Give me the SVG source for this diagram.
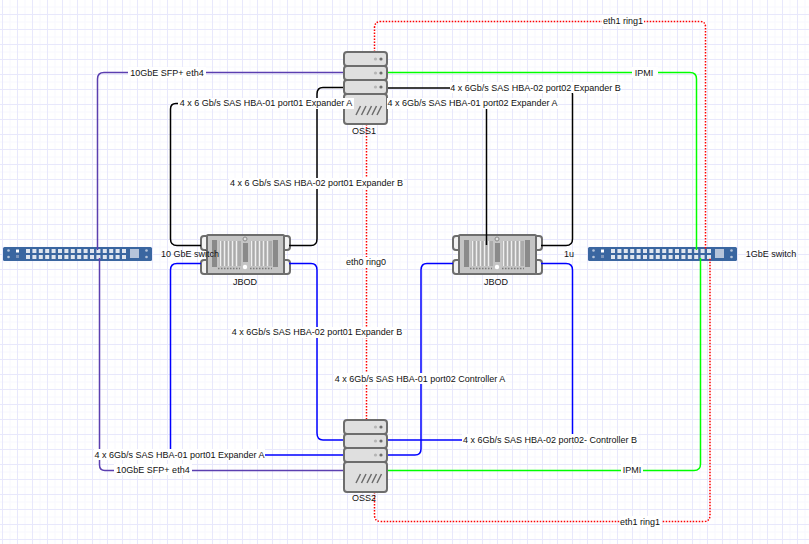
<svg xmlns="http://www.w3.org/2000/svg" xmlns:xlink="http://www.w3.org/1999/xlink" width="809" height="544" viewBox="0 0 809 544">
<style>
text{font-family:"Liberation Sans",Arial,sans-serif;font-size:9px;fill:#111;text-anchor:middle}
.c{fill:none;stroke-width:1.5}
.k{stroke:#000}.b{stroke:#0000ff}.p{stroke:#5b3fb0}.g{stroke:#00ff00}
.r{stroke:#ff0000;stroke-dasharray:1.5 1.5}
.lb{fill:#fff}
.u{fill:#dfdfdf;stroke:#6d6d6d;stroke-width:2}
.ear{fill:#f2f2f2;stroke:#6d6d6d;stroke-width:2}
.sl{stroke:#6d6d6d;stroke-width:1.5;fill:none}
.sw{fill:#3a66a0}
.pt{fill:#dfe5ee}
</style>
<defs>
<pattern id="grid" width="15" height="15" patternUnits="userSpaceOnUse" x="2" y="-1">
<path d="M0 8H15M8 0V15" fill="none" stroke="#f7f7fe" stroke-width="1"/>
<path d="M0 .5H15M.5 0V15" fill="none" stroke="#e8e8fc" stroke-width="1"/>
</pattern>
<g id="srv">
<rect class="u" x="344" y="94" width="43" height="30" rx="3"/>
<rect class="u" x="344" y="80" width="43" height="14" rx="3"/>
<rect class="u" x="344" y="66" width="43" height="14" rx="3"/>
<rect class="u" x="344" y="52" width="43" height="14" rx="3"/>
<circle cx="375.500" cy="59" r="1.600" fill="#b5b5b5"/><circle cx="381" cy="59" r="1.600" fill="#6d6d6d"/>
<circle cx="375.500" cy="73" r="1.600" fill="#b5b5b5"/><circle cx="381" cy="73" r="1.600" fill="#6d6d6d"/>
<circle cx="375.500" cy="87" r="1.600" fill="#b5b5b5"/><circle cx="381" cy="87" r="1.600" fill="#6d6d6d"/>
<path class="sl" d="M356 115l4.500-9M361.500 115l4.500-9M367 115l4.500-9M372 115l4.500-9M377 115l4.500-9"/>
</g>
<g id="jb">
<rect class="ear" x="201" y="236" width="8" height="14" rx="3"/><rect class="ear" x="201" y="260" width="8" height="14" rx="3"/>
<rect class="ear" x="282" y="236" width="8" height="14" rx="3"/><rect class="ear" x="282" y="260" width="8" height="14" rx="3"/>
<rect x="207" y="235" width="77" height="39" rx="1" fill="#c4c4c4" stroke="#6d6d6d" stroke-width="2"/>
<rect x="212" y="240" width="5" height="27" fill="#8a8a8a"/><rect x="243" y="243" width="5" height="19" fill="#8a8a8a"/><rect x="273" y="240" width="5" height="27" fill="#8a8a8a"/>
<rect x="219" y="241" width="22" height="25" fill="#ababab"/><rect x="250" y="241" width="22" height="25" fill="#ababab"/>
<path d="M220.500 241v25M224.500 241v25M228.500 241v25M232.500 241v25M236.500 241v25M251.500 241v25M255.500 241v25M259.500 241v25M263.500 241v25M267.500 241v25" stroke="#f0f0f0" stroke-width="1.500"/>
<path d="M218 268.500H240M250 268.500H272" stroke="#7d7d7d" stroke-width="1.500" stroke-dasharray="1.500 1.500"/>
<circle cx="245" cy="239" r="2" fill="#e0e0e0" stroke="#8a8a8a"/><circle cx="245" cy="267" r="2.200" fill="#fff"/>
</g>
<g id="swt">
<rect class="sw" x="3" y="247" width="149" height="14" rx="1.500"/>
<circle cx="8.500" cy="250.500" r="1.300" fill="#b6c4da"/><circle cx="8.500" cy="257" r="1.300" fill="#b6c4da"/>
<rect x="16" y="249.500" width="3" height="3" fill="#fff"/><rect x="16" y="255" width="3" height="3" fill="#7d95bb"/>
<g class="pt">
<rect x="26" y="249" width="4" height="4"/><rect x="32.400" y="249" width="4" height="4"/><rect x="38.800" y="249" width="4" height="4"/><rect x="45.200" y="249" width="4" height="4"/><rect x="51.600" y="249" width="4" height="4"/><rect x="58" y="249" width="4" height="4"/><rect x="64.400" y="249" width="4" height="4"/><rect x="70.800" y="249" width="4" height="4"/><rect x="77.200" y="249" width="4" height="4"/><rect x="83.600" y="249" width="4" height="4"/><rect x="90" y="249" width="4" height="4"/><rect x="96.400" y="249" width="4" height="4"/><rect x="102.800" y="249" width="4" height="4"/><rect x="109.200" y="249" width="4" height="4"/><rect x="115.600" y="249" width="4" height="4"/><rect x="122" y="249" width="4" height="4"/>
<rect x="26" y="255" width="4" height="4"/><rect x="32.400" y="255" width="4" height="4"/><rect x="38.800" y="255" width="4" height="4"/><rect x="45.200" y="255" width="4" height="4"/><rect x="51.600" y="255" width="4" height="4"/><rect x="58" y="255" width="4" height="4"/><rect x="64.400" y="255" width="4" height="4"/><rect x="70.800" y="255" width="4" height="4"/><rect x="77.200" y="255" width="4" height="4"/><rect x="83.600" y="255" width="4" height="4"/><rect x="90" y="255" width="4" height="4"/><rect x="96.400" y="255" width="4" height="4"/><rect x="102.800" y="255" width="4" height="4"/><rect x="109.200" y="255" width="4" height="4"/><rect x="115.600" y="255" width="4" height="4"/><rect x="122" y="255" width="4" height="4"/>
</g>
<rect x="130" y="249" width="9" height="9" fill="#b6c4da"/>
<circle cx="146.500" cy="250.500" r="1.300" fill="#b6c4da"/><circle cx="146.500" cy="257" r="1.300" fill="#b6c4da"/>
</g>
</defs>
<rect width="809" height="544" fill="#fff"/>
<rect width="809" height="544" fill="url(#grid)"/>
<g id="node-switch-left"><use xlink:href="#swt"/></g>
<g id="node-switch-right"><use xlink:href="#swt" x="585"/></g>
<g id="node-jbod1"><use xlink:href="#jb"/><text x="245" y="285">JBOD</text></g>
<g id="node-jbod2"><use xlink:href="#jb" x="252"/><text x="496" y="285">JBOD</text></g>
<g id="connectors">
<path class="c r" d="M366.500 124V420"/>
<path class="c r" d="M374.500 52V28Q374.500 21.500 381 21.500H700Q705.500 21.500 705.500 27V250"/>
<path class="c r" d="M374.500 492V515Q374.500 521.500 381 521.500H704Q710 521.500 710 515V258"/>
<path class="c p" d="M344 72.500H104Q97.500 72.500 97.500 79V250"/>
<path class="c p" d="M344 470.500H105Q99.500 470.500 99.500 465V258"/>
<path class="c g" d="M387 72.500H690Q696.500 72.500 696.500 79V250"/>
<path class="c g" d="M387 470.500H694Q700.500 470.500 700.500 464V258"/>
<path class="c k" d="M344 103.500H176Q170.500 103.500 170.500 109V239Q170.500 245.500 177 245.500H201"/>
<path class="c k" d="M344 87.500H323Q317 87.500 317 94V239Q317 245.500 311 245.500H289"/>
<path class="c k" d="M387 103.500H486.500V245"/>
<path class="c k" d="M387 88H566Q572.500 88 572.500 94V239Q572.500 245.500 566 245.500H541"/>
<path class="c b" d="M201 263.500H177Q170.500 263.500 170.500 270V455H344"/>
<path class="c b" d="M289 263.500H311Q317 263.500 317 270V433Q317 440 323 440H344"/>
<path class="c b" d="M453 263.500H427Q421 263.500 421 270V449Q421 455 415 455H387"/>
<path class="c b" d="M541 263.500H566Q572.500 263.500 572.500 270V440H387"/>
</g>
<g id="node-oss1"><use xlink:href="#srv"/><text x="364" y="134">OSS1</text></g>
<g id="node-oss2"><use xlink:href="#srv" y="368"/><text x="364" y="501">OSS2</text></g>
<g id="labels">
<rect class="lb" x="128" y="67" width="78" height="11"/><text x="167" y="76">10GbE SFP+ eth4</text>
<rect class="lb" x="632" y="67" width="26" height="11"/><text x="644" y="76">IPMI</text>
<rect class="lb" x="602" y="15" width="42" height="11"/><text x="623" y="24">eth1 ring1</text>
<rect class="lb" x="178" y="98" width="176" height="11"/><text x="266" y="106">4 x 6 Gb/s SAS HBA-01 port01 Expander A</text>
<rect class="lb" x="387" y="98" width="171" height="11"/><text x="472.500" y="106">4 x 6Gb/s SAS HBA-01 port02 Expander A</text>
<rect class="lb" x="450" y="82" width="171" height="11"/><text x="535.500" y="91">4 x 6Gb/s SAS HBA-02 port02 Expander B</text>
<rect class="lb" x="229" y="178" width="175" height="11"/><text x="316.500" y="186">4 x 6 Gb/s SAS HBA-02 port01 Expander B</text>
<rect class="lb" x="345" y="257" width="42" height="11"/><text x="366" y="265">eth0 ring0</text>
<rect class="lb" x="231" y="327" width="172" height="11"/><text x="317" y="335">4 x 6Gb/s SAS HBA-02 port01 Expander B</text>
<rect class="lb" x="334" y="373" width="172" height="11"/><text x="420" y="382">4 x 6Gb/s SAS HBA-01 port02 Controller A</text>
<rect class="lb" x="462" y="434" width="176" height="11"/><text x="550" y="443">4 x 6Gb/s SAS HBA-02 port02- Controller B</text>
<rect class="lb" x="94" y="449" width="171" height="11"/><text x="179.500" y="458">4 x 6Gb/s SAS HBA-01 port01 Expander A</text>
<rect class="lb" x="114" y="464" width="78" height="11"/><text x="153" y="473">10GbE SFP+ eth4</text>
<rect class="lb" x="621" y="464" width="22" height="11"/><text x="632" y="473">IPMI</text>
<rect class="lb" x="620" y="516" width="42" height="11"/><text x="640" y="525">eth1 ring1</text>
<text x="190" y="257">10 GbE switch</text>
<text x="569" y="257">1u</text>
<text x="771" y="257">1GbE switch</text>
</g>
</svg>
